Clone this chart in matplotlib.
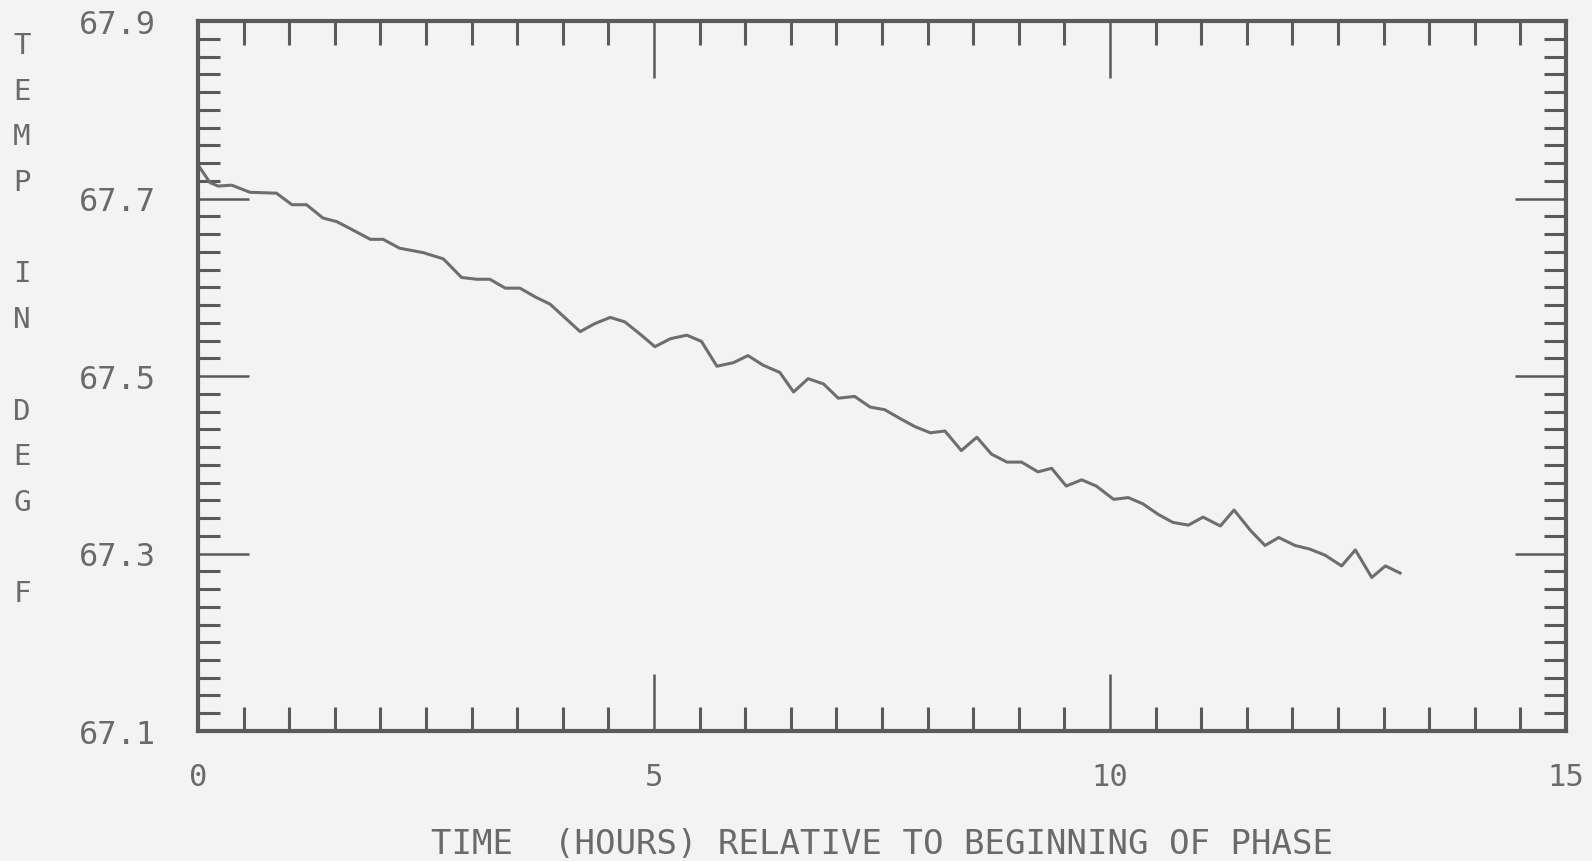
import numpy as np
from matplotlib import pyplot as plt
from matplotlib.ticker import MultipleLocator

# temperature trace (hours, deg F)
hours = [0.00, 0.13, 0.22, 0.37, 0.57, 0.86, 1.03, 1.19, 1.37, 1.52,
         1.67, 1.89, 2.03, 2.21, 2.47, 2.69, 2.89, 3.06, 3.20, 3.37,
         3.53, 3.70, 3.86, 4.02, 4.19, 4.35, 4.52, 4.68, 4.85, 5.01,
         5.18, 5.36, 5.52, 5.69, 5.87, 6.03, 6.20, 6.38, 6.53, 6.69,
         6.86, 7.02, 7.20, 7.37, 7.53, 7.70, 7.86, 8.03, 8.19, 8.37,
         8.54, 8.70, 8.87, 9.03, 9.21, 9.36, 9.52, 9.69, 9.85, 10.04,
         10.20, 10.36, 10.53, 10.69, 10.86, 11.02, 11.21, 11.36, 11.54, 11.70,
         11.85, 12.03, 12.19, 12.36, 12.54, 12.69, 12.87, 13.02, 13.18]
temp = [67.738, 67.718, 67.714, 67.715, 67.707, 67.706, 67.693, 67.693, 67.678, 67.674,
        67.666, 67.654, 67.654, 67.644, 67.639, 67.632, 67.611, 67.609, 67.609, 67.599,
        67.599, 67.589, 67.581, 67.566, 67.550, 67.559, 67.566, 67.561, 67.547, 67.533,
        67.542, 67.546, 67.539, 67.511, 67.515, 67.523, 67.512, 67.504, 67.482, 67.497,
        67.491, 67.475, 67.477, 67.465, 67.462, 67.452, 67.443, 67.436, 67.438, 67.416,
        67.431, 67.412, 67.403, 67.403, 67.392, 67.396, 67.376, 67.383, 67.376, 67.361,
        67.363, 67.356, 67.344, 67.335, 67.332, 67.341, 67.331, 67.349, 67.326, 67.309,
        67.318, 67.309, 67.305, 67.298, 67.286, 67.304, 67.273, 67.286, 67.278]

x_ticks = [0, 5, 10, 15]
y_ticks = [67.1, 67.3, 67.5, 67.7, 67.9]
y_labels = ["67.1", "67.3", "67.5", "67.7", "67.9"]
x_title = "TIME  (HOURS) RELATIVE TO BEGINNING OF PHASE"
y_title = "TEMP IN DEG F"

bg = "#f3f3f3"
ink = "#5a5a5a"
txt = "#6a6a6a"
font = "DejaVu Sans Mono"

W, H = 1592, 862
fig = plt.figure(figsize=(W / 100, H / 100), dpi=100, facecolor=bg)
ax = fig.add_axes([198 / W, 1 - 732 / H, (1566 - 198) / W, (732 - 22) / H])
ax.set_facecolor(bg)

ax.plot(hours, temp, color="#6e6e6e", lw=2.2)

ax.set_xlim(0, 15)
ax.set_ylim(67.1, 67.9)

ax.set_xticks(x_ticks)
ax.set_xticklabels([str(t) for t in x_ticks], fontsize=22, family=font, color=txt)
ax.set_yticks(y_ticks)
ax.set_yticklabels(y_labels, fontsize=23, family=font, color=txt)
ax.xaxis.set_minor_locator(MultipleLocator(0.5))
ax.yaxis.set_minor_locator(MultipleLocator(0.02))

ax.tick_params(which="both", direction="in", top=True, right=True, color=ink)
ax.tick_params(axis="x", which="major", length=41, width=1.8, pad=22)
ax.tick_params(axis="x", which="minor", length=17, width=2.2)
ax.tick_params(axis="y", which="major", length=37, width=1.8, pad=30)
ax.tick_params(axis="y", which="minor", length=16, width=2.2)

for s in ax.spines.values():
    s.set_color(ink)
    s.set_linewidth(3)

ax.set_xlabel(x_title, fontsize=24.5, family=font, color=txt, labelpad=26)

# stacked vertical y title, one letter per row (blank row between words)
row = 45.7
for i, ch in enumerate(y_title):
    if ch == " ":
        continue
    fig.text(22 / W, 1 - (46 + i * row) / H, ch, fontsize=21, family=font,
             color=txt, ha="center", va="center")

fig.savefig("out.png", dpi=100, facecolor=bg)
